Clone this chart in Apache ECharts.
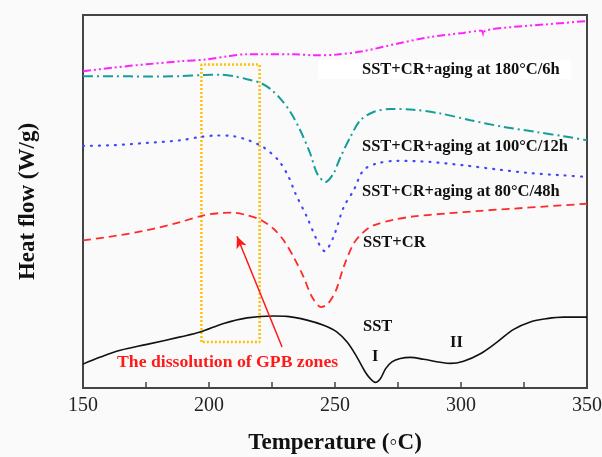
<!DOCTYPE html>
<html>
<head>
<meta charset="utf-8">
<script src="https://cdn.jsdelivr.net/npm/echarts@6/dist/echarts.min.js"></script>
<style>
html,body{margin:0;padding:0;background:#fafafa;}
#chart{width:602px;height:457px;}
</style>
</head>
<body>
<div id="chart"></div>
<script>
// ---- Data (temperature in °C, heat flow in arbitrary offset units) ----
const xTicks = [150, 200, 250, 300, 350];

const sstT  = [150,156.9,164.8,175.4,188.6,196.5,205.8,215.1,225.6,230.9,238.9,245.5,250.8,254.8,258.7,262,264,266,268,270.1,272.6,275.9,279.9,285.2,291.8,295.8,301,307.7,314.3,320.9,327.5,334.1,340.7,350];
const sstHF = [0.64,0.83,1.01,1.17,1.37,1.50,1.73,1.88,1.93,1.92,1.82,1.68,1.50,1.23,0.83,0.43,0.25,0.15,0.25,0.52,0.70,0.79,0.82,0.77,0.69,0.66,0.72,0.92,1.23,1.57,1.77,1.86,1.90,1.90];

const crT  = [150,162.1,175.4,188.6,197.9,204.5,209.8,215.1,220.4,225.6,229.6,233.6,237.5,240.9,244.5,247.2,250.4,253.4,257.4,261.3,265.3,273.3,281.2,294.4,307.7,320.9,334.1,350];
const crHF = [3.96,4.07,4.23,4.45,4.63,4.69,4.70,4.63,4.51,4.27,3.96,3.51,2.98,2.44,2.17,2.26,2.62,3.24,3.87,4.18,4.36,4.51,4.60,4.68,4.75,4.81,4.87,4.94];

const a80T  = [150,162,175.4,188.6,196.5,203.2,209.8,215.7,221.7,227.6,231.6,234.2,238.9,242.9,245.9,249.4,253.4,257.4,261.3,266.7,274.6,287.8,301,314.3,327.5,340.7,350];
const a80HF = [6.49,6.51,6.57,6.64,6.73,6.77,6.75,6.64,6.45,6.10,5.66,5.23,4.58,3.96,3.67,4.05,4.84,5.30,5.84,6.02,6.09,6.06,5.97,5.86,5.76,5.70,5.66];

const a100T  = [150,162,175.4,188.6,197.9,204.5,209.8,215.1,220.4,224.3,228.3,232.3,236.2,240.2,242.9,246.2,249.4,252.1,256.1,260.1,265.3,272,281.2,291.8,303.7,316.9,330.2,340.7,350];
const a100HF = [8.36,8.36,8.35,8.36,8.39,8.40,8.36,8.28,8.18,8.02,7.76,7.40,6.91,6.28,5.75,5.52,5.75,6.18,6.73,7.18,7.40,7.48,7.46,7.36,7.18,7.00,6.86,6.75,6.64];

const a180T  = [150,162,175.4,188.6,199.2,207.1,215.1,223,233.5,241.4,250.8,261.2,274.6,287.8,300.9,308.3,308.9,309.6,320.8,334.1,350];
const a180HF = [8.49,8.59,8.68,8.76,8.81,8.89,8.95,8.95,8.95,8.92,8.94,9.03,9.23,9.41,9.52,9.58,9.46,9.58,9.68,9.75,9.84];

// highlighted window (dissolution of GPB zones)
const boxT  = [197, 220.1];
const boxHF = [1.23, 8.67];
// arrow from annotation text to window
const arrowT  = [229.0, 211.1];
const arrowHF = [1.10, 4.07];

const pair = (xs, ys) => xs.map((x, i) => [x, ys[i]]);

const SERIF = '"Liberation Serif","Times New Roman",serif';
const chart = echarts.init(document.getElementById('chart'));

function label(text, left, cy, opts) {
  return Object.assign({
    type: 'text', left: left, top: cy - 9, z: 100,
    style: { text: text, font: 'bold 16.5px ' + SERIF, fill: '#111' }
  }, opts || {});
}

const boxPts = [
  [boxT[0], boxHF[0]], [boxT[0], boxHF[1]], [boxT[1], boxHF[1]], [boxT[1], boxHF[0]], [boxT[0], boxHF[0]]
];

chart.setOption({
  backgroundColor: '#fafafa',
  animation: false,
  grid: { left: 83, right: 15, top: 15, bottom: 69, outerBoundsMode: 'none', containLabel: false,
    show: true, borderColor: '#444', borderWidth: 2, backgroundColor: 'transparent' },
  xAxis: {
    type: 'value', min: 150, max: 350, interval: 25,
    name: 'Temperature (◦C)', nameLocation: 'middle', nameGap: 44,
    nameTextStyle: { fontFamily: SERIF, fontWeight: 'bold', fontSize: 23, color: '#111' },
    axisLine: { show: true, lineStyle: { color: '#444', width: 2 } },
    axisTick: { show: true, inside: true, length: 6, lineStyle: { color: '#444', width: 1.5 } },
    axisLabel: { fontFamily: SERIF, fontSize: 20, color: '#222', margin: 8,
      formatter: v => (xTicks.indexOf(v) >= 0 ? String(v) : '') },
    splitLine: { show: false }
  },
  yAxis: {
    type: 'value', min: 0, max: 10,
    name: 'Heat flow (W/g)', nameLocation: 'middle', nameGap: 43,
    nameTextStyle: { fontFamily: SERIF, fontWeight: 'bold', fontSize: 23, color: '#111' },
    axisLine: { show: true, lineStyle: { color: '#444', width: 2 } },
    axisTick: { show: false }, axisLabel: { show: false }, splitLine: { show: false }
  },
  series: [
    { name: 'SST', type: 'line', data: pair(sstT, sstHF), showSymbol: false, smooth: 0.35,
      lineStyle: { color: '#111', width: 1.6 } },
    { name: 'SST+CR', type: 'line', data: pair(crT, crHF), showSymbol: false, smooth: 0.3,
      lineStyle: { color: '#ff2a2a', width: 1.8, type: [8, 5] } },
    { name: 'SST+CR+aging at 80°C/48h', type: 'line', data: pair(a80T, a80HF), showSymbol: false, smooth: 0.3,
      lineStyle: { color: '#4444ff', width: 2.2, type: [1, 7], cap: 'round' } },
    { name: 'SST+CR+aging at 100°C/12h', type: 'line', data: pair(a100T, a100HF), showSymbol: false, smooth: 0.3,
      lineStyle: { color: '#149e9a', width: 2, type: [10, 4, 2, 4] } },
    { name: 'SST+CR+aging at 180°C/6h', type: 'line', data: pair(a180T, a180HF), showSymbol: false, smooth: 0.3,
      lineStyle: { color: '#ff22ff', width: 2, type: [8, 3, 2, 3, 2, 3] } },
    { name: 'window', type: 'line', data: boxPts, showSymbol: false, z: 1,
      lineStyle: { color: '#ffc000', width: 2.5, type: [2, 2] } },
    { name: 'arrow', type: 'line', data: [], showSymbol: false,
      markLine: { silent: true, symbol: ['none', 'arrow'], symbolSize: [8, 12], label: { show: false },
        lineStyle: { color: '#ff1a1a', width: 1.5, type: 'solid' },
        data: [[{ coord: [arrowT[0], arrowHF[0]] }, { coord: [arrowT[1], arrowHF[1]] }]] } }
  ],
  graphic: [
    { type: 'rect', shape: { x: 318, y: 60, width: 253, height: 19 }, style: { fill: '#ffffff' }, z: 50 },
    label('SST+CR+aging at 180°C/6h', 362, 70),
    label('SST+CR+aging at 100°C/12h', 362, 147),
    label('SST+CR+aging at 80°C/48h', 362, 192),
    label('SST+CR', 363, 243),
    label('SST', 363, 327),
    label('I', 372, 357),
    label('II', 450, 343),
    { type: 'text', left: 117, top: 353, z: 100,
      style: { text: 'The dissolution of GPB zones', font: 'bold 17.7px ' + SERIF, fill: '#ff1a1a' } }
  ]
});
</script>
</body>
</html>
